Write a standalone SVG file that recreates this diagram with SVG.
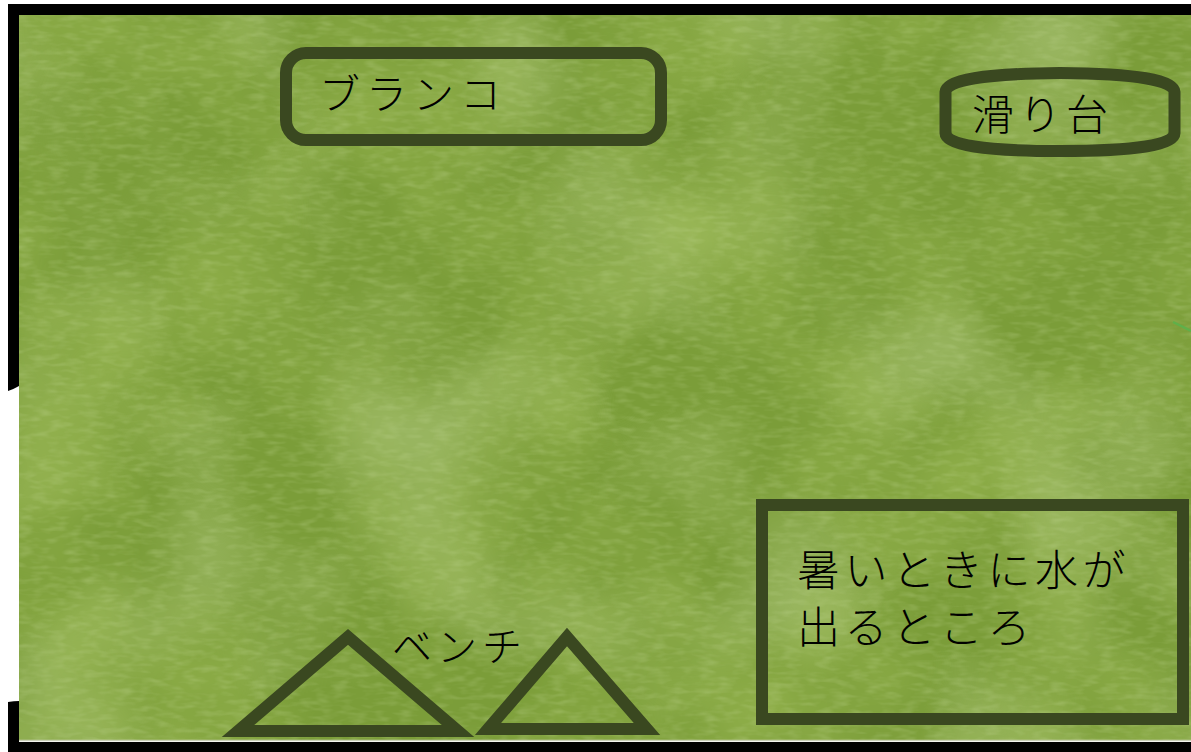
<svg xmlns="http://www.w3.org/2000/svg" width="1191" height="752" viewBox="0 0 1191 752">
  <defs>
    <style>
      .lbl { font-family: "Noto Sans CJK JP", "Noto Sans", sans-serif; fill: #000000; font-weight: 300; }
      .frame { fill: none; stroke: #3a4820; stroke-width: 12; }
      .bar { fill: #000000; }
    </style>
    <filter id="blotch" x="0" y="0" width="1" height="1">
      <feTurbulence type="fractalNoise" baseFrequency="0.005" numOctaves="3" seed="7" result="n"/>
      <feColorMatrix in="n" type="matrix" values="0 0 0 0 0.36  0 0 0 0 0.52  0 0 0 0 0.1  1.3 0 0 0 -0.55"/>
    </filter>
    <filter id="light" x="0" y="0" width="1" height="1">
      <feTurbulence type="fractalNoise" baseFrequency="0.006" numOctaves="2" seed="21" result="n"/>
      <feColorMatrix in="n" type="matrix" values="0 0 0 0 0.56  0 0 0 0 0.7  0 0 0 0 0.32  1.1 0 0 0 -0.5"/>
    </filter>
    <filter id="fine" x="0" y="0" width="1" height="1">
      <feTurbulence type="fractalNoise" baseFrequency="0.06 0.18" numOctaves="2" seed="3" result="n"/>
      <feColorMatrix in="n" type="matrix" values="0 0 0 0 0.56  0 0 0 0 0.7  0 0 0 0 0.32  0.6 0 0 0 -0.26"/>
    </filter>
  </defs>

  <rect width="1191" height="752" fill="#ffffff"/>

  <g id="ground">
    <rect x="19" y="15" width="1172" height="726" fill="#7b9d39"/>
    <rect x="19" y="15" width="1172" height="726" fill="#000" filter="url(#light)"/>
    <rect x="19" y="15" width="1172" height="726" fill="#000" filter="url(#blotch)"/>
    <rect x="19" y="15" width="1172" height="726" fill="#000" filter="url(#fine)"/>
    <line x1="19" y1="740.5" x2="1191" y2="740.5" stroke="#c9cfb8" stroke-width="1.5"/>
  </g>

  <g id="border">
    <rect class="bar" x="8" y="4" width="1183" height="11"/>
    <path class="bar" d="M8,4 H19 V386 Q14,389 8,391 Z"/>
    <path class="bar" d="M8,702 Q14,701 19,701 V752 H8 Z"/>
    <rect class="bar" x="8" y="742" width="1183" height="10"/>
  </g>

  <g id="connectors">
    <line x1="1173" y1="322" x2="1191" y2="331" stroke="#5fb04a" stroke-width="2.5"/>
  </g>

  <g id="swing">
    <rect class="frame" x="286" y="53" width="375" height="87" rx="20" ry="20"/>
    <text class="lbl" x="319" y="109" font-size="41" letter-spacing="6">ブランコ</text>
  </g>

  <g id="slide">
    <path class="frame" d="M945.5,92 Q946,74 1060,73 Q1174,74 1174.5,92 L1174.5,133 Q1174,151 1060,151 Q946,151 945.5,133 Z"/>
    <text class="lbl" x="972" y="130" font-size="42" letter-spacing="5">滑り台</text>
  </g>

  <g id="water">
    <rect class="frame" x="762" y="505" width="421" height="214"/>
    <text class="lbl" x="797" y="586" font-size="43" letter-spacing="4.6">暑いときに水が</text>
    <text class="lbl" x="797" y="643" font-size="43" letter-spacing="4.6">出るところ</text>
  </g>

  <g id="bench">
    <polygon class="frame" points="238,731 348,637 458,731" stroke-linejoin="miter"/>
    <polygon class="frame" points="488,729 567,637 647,729" stroke-linejoin="miter"/>
    <text class="lbl" x="392" y="661" font-size="40" letter-spacing="5">ベンチ</text>
  </g>
</svg>
